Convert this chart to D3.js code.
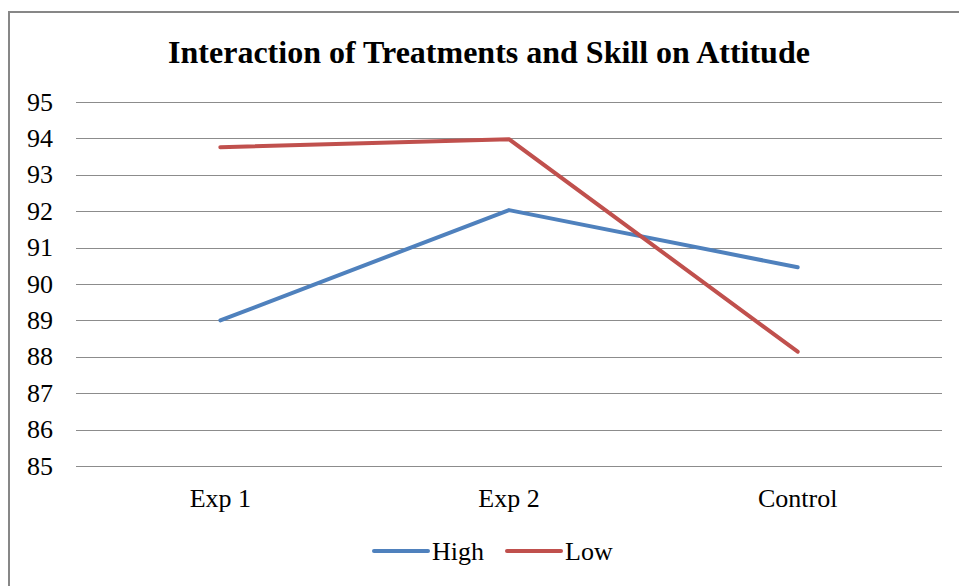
<!DOCTYPE html>
<html>
<head>
<meta charset="utf-8">
<script src="https://cdn.jsdelivr.net/npm/d3@7"></script>
<style>
  body { margin: 0; background: #fff; }
</style>
</head>
<body>
<div id="chart"></div>
<script>
var categories = ["Exp 1", "Exp 2", "Control"];
var highValues = [89.0, 92.03, 90.46];
var lowValues = [93.76, 93.98, 88.14];
var yTicks = [85, 86, 87, 88, 89, 90, 91, 92, 93, 94, 95];
var seriesNames = ["High", "Low"];
var seriesColors = ["#4F81BD", "#C0504D"];

var W = 959, H = 586;
var FONT = "'Liberation Serif', 'Times New Roman', serif";
var margin = {top: 102, right: 17, bottom: 120, left: 76},
    width = W - margin.left - margin.right,
    height = H - margin.top - margin.bottom;

var svg = d3.select("#chart").append("svg")
    .attr("width", W)
    .attr("height", H)
    .style("font-family", FONT);

// outer frame (runs off the right and bottom edges)
svg.append("rect")
    .attr("x", 9).attr("y", 12)
    .attr("width", 970).attr("height", 600)
    .attr("fill", "none")
    .attr("stroke", "#878787")
    .attr("stroke-width", 2);

svg.append("text")
    .attr("x", 489).attr("y", 63)
    .attr("text-anchor", "middle")
    .attr("font-family", FONT)
    .style("font-size", "32px")
    .style("font-weight", "bold")
    .text("Interaction of Treatments and Skill on Attitude");

var g = svg.append("g")
    .attr("transform", "translate(" + margin.left + "," + margin.top + ")");

var x = d3.scaleBand().domain(categories).range([0, width]);
var y = d3.scaleLinear().domain([85, 95]).range([364, 0]);

g.selectAll(".grid")
    .data(yTicks)
    .enter().append("line")
    .attr("class", "grid")
    .attr("x1", 0).attr("x2", width)
    .attr("y1", function(d) { return Math.round(y(d)) + 0.5; })
    .attr("y2", function(d) { return Math.round(y(d)) + 0.5; })
    .attr("stroke", "#8c8c8c")
    .attr("stroke-width", 1);

g.selectAll(".ytick")
    .data(yTicks)
    .enter().append("text")
    .attr("class", "ytick")
    .attr("x", -23)
    .attr("y", function(d) { return y(d); })
    .attr("dy", "0.33em")
    .attr("text-anchor", "end")
    .attr("font-family", FONT)
    .style("font-size", "26px")
    .text(function(d) { return d; });

g.selectAll(".xtick")
    .data(categories)
    .enter().append("text")
    .attr("class", "xtick")
    .attr("x", function(d) { return x(d) + x.bandwidth() / 2; })
    .attr("y", 507 - margin.top)
    .attr("text-anchor", "middle")
    .attr("font-family", FONT)
    .style("font-size", "26px")
    .text(function(d) { return d; });

var line = d3.line()
    .x(function(d, i) { return x(categories[i]) + x.bandwidth() / 2; })
    .y(function(d) { return y(d); });

[highValues, lowValues].forEach(function(vals, i) {
    g.append("path")
      .datum(vals)
      .attr("d", line)
      .attr("fill", "none")
      .attr("stroke", seriesColors[i])
      .attr("stroke-width", 4)
      .attr("stroke-linecap", "round")
      .attr("stroke-linejoin", "round");
});

var legend = svg.selectAll(".legend")
    .data(seriesNames)
    .enter().append("g")
    .attr("class", "legend")
    .attr("transform", function(d, i) { return "translate(" + (374 + i * 133) + ",551)"; });

legend.append("line")
    .attr("x1", 0).attr("x2", 54)
    .attr("y1", 0).attr("y2", 0)
    .attr("stroke", function(d, i) { return seriesColors[i]; })
    .attr("stroke-width", 4)
    .attr("stroke-linecap", "round");

legend.append("text")
    .attr("x", 58)
    .attr("y", 9)
    .attr("font-family", FONT)
    .style("font-size", "26px")
    .text(function(d) { return d; });
</script>
</body>
</html>
